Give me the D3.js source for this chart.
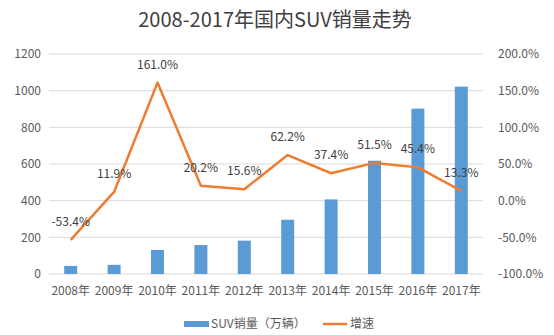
<!DOCTYPE html>
<html><head><meta charset="utf-8">
<script src="https://cdn.jsdelivr.net/npm/d3@7"></script>
<style>body{margin:0;background:#fff}svg{display:block}text{font-family:"Noto Sans CJK SC","Noto Sans",sans-serif}</style>
</head><body><svg id="c" width="554" height="335"></svg>
<script>
const categories = ["2008年","2009年","2010年","2011年","2012年","2013年","2014年","2015年","2016年","2017年"];
const sales = [44, 50, 131, 158, 182, 296, 407, 618, 902, 1022];
const growth = [-53.4, 11.9, 161.0, 20.2, 15.6, 62.2, 37.4, 51.5, 45.4, 13.3];
const leftTicks = [0,200,400,600,800,1000,1200];
const rightTicks = [-100,-50,0,50,100,150,200];
const title = "2008-2017年国内SUV销量走势";
const legendLabels = ["SUV销量（万辆）","增速"];

const svg = d3.select("#c");
const m = {l:49, r:483, t:54, b:274};
const x = d3.scaleBand().domain(categories).range([m.l, m.r]).paddingInner(0.7).paddingOuter(0.35);
const xc = d3.scaleBand().domain(categories).range([m.l, m.r]);
const yL = d3.scaleLinear().domain([0,1200]).range([m.b, m.t]);
const yR = d3.scaleLinear().domain([-100,200]).range([m.b, m.t]);
const txt = "#595959";

svg.append("text").attr("x",275).attr("y",27).attr("text-anchor","middle")
  .attr("font-size",20).attr("fill","#404040").text(title);

// gridlines
svg.append("g").selectAll("line").data(leftTicks).join("line")
  .attr("x1",m.l).attr("x2",m.r).attr("y1",d=>yL(d)).attr("y2",d=>yL(d))
  .attr("stroke","#d9d9d9").attr("stroke-width",1);

// left axis
const gl = svg.append("g").attr("transform",`translate(${m.l-8},0)`)
  .call(d3.axisLeft(yL).tickValues(leftTicks).tickSize(0).tickPadding(0).tickFormat(d3.format("d")));
gl.select(".domain").remove();
gl.selectAll("text").attr("font-size",12).attr("fill",txt).attr("font-family",'"Noto Sans CJK SC","Noto Sans",sans-serif');

// right axis
const gr = svg.append("g").attr("transform",`translate(${m.r+15},0)`)
  .call(d3.axisRight(yR).tickValues(rightTicks).tickSize(0).tickPadding(0).tickFormat(d=>d.toFixed(1)+"%"));
gr.select(".domain").remove();
gr.selectAll("text").attr("font-size",12).attr("fill",txt).attr("font-family",'"Noto Sans CJK SC","Noto Sans",sans-serif');

// x axis
const gx = svg.append("g").attr("transform",`translate(0,${m.b+8})`)
  .call(d3.axisBottom(xc).tickSize(0).tickPadding(4));
gx.select(".domain").remove();
gx.selectAll("text").attr("font-size",12).attr("fill",txt).attr("font-family",'"Noto Sans CJK SC","Noto Sans",sans-serif');

// bars
svg.append("g").selectAll("rect").data(sales).join("rect")
  .attr("x",(d,i)=>xc(categories[i])+xc.bandwidth()/2-6.5).attr("width",13)
  .attr("y",d=>yL(d)).attr("height",d=>yL(0)-yL(d)).attr("fill","#5b9bd5");

// line
const cx = (i)=>xc(categories[i])+xc.bandwidth()/2;
svg.append("path").datum(growth)
  .attr("d",d3.line().x((d,i)=>cx(i)).y(d=>yR(d)))
  .attr("fill","none").attr("stroke","#ed7d31").attr("stroke-width",2.5).attr("stroke-linejoin","round");

// labels
svg.append("g").selectAll("text").data(growth).join("text")
  .attr("x",(d,i)=>cx(i)).attr("y",d=>yR(d)-14).attr("text-anchor","middle")
  .attr("font-size",12).attr("fill","#404040").text(d=>d.toFixed(1)+"%");

// legend
const lg = svg.append("g");
lg.append("rect").attr("x",184).attr("y",321).attr("width",25).attr("height",6).attr("fill","#5b9bd5");
lg.append("text").attr("x",211).attr("y",328).attr("font-size",12).attr("fill",txt).text(legendLabels[0]);
lg.append("line").attr("x1",323).attr("x2",347).attr("y1",324).attr("y2",324).attr("stroke","#ed7d31").attr("stroke-width",2.5);
lg.append("text").attr("x",350).attr("y",328).attr("font-size",12).attr("fill",txt).text(legendLabels[1]);
</script></body></html>
